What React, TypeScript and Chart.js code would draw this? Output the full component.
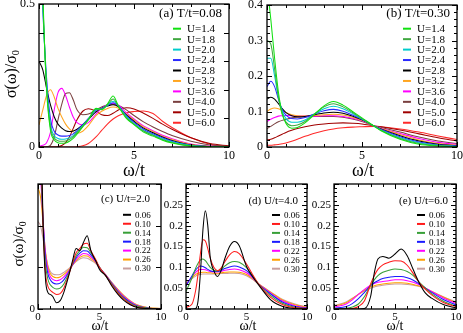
import React, { useEffect, useRef } from 'react';
import { Chart, registerables } from 'chart.js';

Chart.register(...registerables);

const FONT = '"Liberation Serif", "DejaVu Serif", "Times New Roman", serif';

// ---------- legends / colours ----------
const U_LABELS = ['U=1.4', 'U=1.8', 'U=2.0', 'U=2.4', 'U=2.8', 'U=3.2', 'U=3.6', 'U=4.0', 'U=5.0', 'U=6.0'];
const U_COLORS = ['#10e010', '#40a840', '#00cccc', '#2a2aff', '#000000', '#ffa520', '#ff00ff', '#7a4040', '#a00000', '#ff2a2a'];
const T_LABELS = ['0.06', '0.10', '0.14', '0.18', '0.22', '0.26', '0.30'];
const T_COLORS = ['#000000', '#ff1a1a', '#38a038', '#1a1aff', '#ff00ff', '#ffa000', '#c8a0a0'];

// ---------- panel (a): T/t = 0.08 ----------
const W_A = [0, 0.2, 0.4, 0.6, 0.8, 1.0, 1.2, 1.4, 1.6, 1.8, 2.0, 2.3, 2.6, 3.0, 3.3, 3.6, 3.9, 4.2, 4.6, 5.0, 5.5, 6.0, 6.5, 7, 8, 9, 10];
const A_U14 = [1.2, 0.55, 0.2, 0.06, 0.025, 0.015, 0.013, 0.014, 0.02, 0.03, 0.045, 0.07, 0.095, 0.135, 0.13, 0.15, 0.178, 0.14, 0.1, 0.078, 0.052, 0.038, 0.024, 0.014, 0.003, 0.001, 0];
const A_U18 = [1.0, 0.52, 0.21, 0.07, 0.032, 0.022, 0.02, 0.021, 0.026, 0.036, 0.05, 0.073, 0.097, 0.133, 0.132, 0.148, 0.168, 0.14, 0.103, 0.08, 0.056, 0.041, 0.026, 0.016, 0.004, 0.001, 0];
const A_U20 = [0.9, 0.5, 0.22, 0.08, 0.04, 0.03, 0.027, 0.028, 0.032, 0.04, 0.053, 0.075, 0.098, 0.13, 0.133, 0.146, 0.16, 0.142, 0.106, 0.082, 0.058, 0.043, 0.029, 0.018, 0.005, 0.001, 0];
const A_U24 = [0.8, 0.48, 0.24, 0.1, 0.055, 0.042, 0.038, 0.038, 0.04, 0.046, 0.057, 0.077, 0.1, 0.128, 0.135, 0.145, 0.155, 0.143, 0.11, 0.086, 0.062, 0.046, 0.032, 0.02, 0.006, 0.001, 0];
const A_U28 = [0.3, 0.27, 0.205, 0.148, 0.106, 0.08, 0.066, 0.057, 0.054, 0.056, 0.062, 0.078, 0.097, 0.123, 0.135, 0.143, 0.148, 0.14, 0.112, 0.09, 0.066, 0.05, 0.035, 0.023, 0.007, 0.002, 0];
const A_U32 = [0.077, 0.13, 0.18, 0.2, 0.175, 0.135, 0.105, 0.08, 0.063, 0.053, 0.048, 0.055, 0.075, 0.11, 0.125, 0.135, 0.14, 0.135, 0.115, 0.095, 0.07, 0.054, 0.038, 0.026, 0.009, 0.002, 0];
const A_U36 = [0.003, 0.006, 0.015, 0.05, 0.13, 0.19, 0.205, 0.18, 0.14, 0.105, 0.085, 0.077, 0.085, 0.115, 0.135, 0.148, 0.153, 0.145, 0.12, 0.098, 0.074, 0.057, 0.041, 0.029, 0.01, 0.003, 0];
const A_U40 = [0, 0, 0.001, 0.006, 0.035, 0.095, 0.15, 0.187, 0.19, 0.165, 0.13, 0.113, 0.115, 0.13, 0.14, 0.148, 0.15, 0.145, 0.13, 0.11, 0.088, 0.07, 0.054, 0.04, 0.02, 0.007, 0.002];
const A_U50 = [0, 0, 0, 0, 0, 0.001, 0.005, 0.015, 0.035, 0.065, 0.095, 0.125, 0.134, 0.125, 0.113, 0.11, 0.118, 0.13, 0.137, 0.133, 0.118, 0.1, 0.08, 0.062, 0.032, 0.012, 0.004];
const A_U60 = [0, 0, 0, 0, 0, 0, 0, 0, 0, 0, 0.001, 0.004, 0.012, 0.035, 0.058, 0.08, 0.098, 0.11, 0.12, 0.124, 0.126, 0.117, 0.09, 0.068, 0.032, 0.01, 0.002];

// ---------- panel (b): T/t = 0.30 ----------
const W_B = [0, 0.2, 0.4, 0.6, 0.8, 1.0, 1.3, 1.6, 2.0, 2.5, 3.0, 3.5, 4.0, 4.5, 5.0, 5.6, 6.0, 7, 8, 9, 10];
const B_U14 = [0.46, 0.36, 0.25, 0.155, 0.095, 0.066, 0.053, 0.055, 0.068, 0.092, 0.116, 0.128, 0.118, 0.1, 0.082, 0.06, 0.046, 0.022, 0.008, 0.003, 0.001];
const B_U18 = [0.3, 0.29, 0.22, 0.14, 0.092, 0.07, 0.06, 0.062, 0.072, 0.093, 0.113, 0.122, 0.113, 0.097, 0.08, 0.06, 0.047, 0.024, 0.01, 0.004, 0.001];
const B_U20 = [0.25, 0.25, 0.2, 0.14, 0.1, 0.08, 0.07, 0.07, 0.076, 0.093, 0.108, 0.115, 0.108, 0.094, 0.079, 0.06, 0.048, 0.026, 0.012, 0.005, 0.002];
const B_U24 = [0.17, 0.185, 0.17, 0.135, 0.105, 0.09, 0.08, 0.079, 0.083, 0.093, 0.102, 0.106, 0.101, 0.09, 0.078, 0.06, 0.05, 0.029, 0.014, 0.006, 0.003];
const B_U28 = [0.135, 0.14, 0.135, 0.122, 0.108, 0.097, 0.088, 0.085, 0.086, 0.091, 0.096, 0.098, 0.095, 0.087, 0.077, 0.06, 0.051, 0.032, 0.017, 0.008, 0.004];
const B_U32 = [0.1, 0.107, 0.11, 0.108, 0.103, 0.097, 0.091, 0.088, 0.087, 0.089, 0.091, 0.092, 0.09, 0.084, 0.075, 0.06, 0.052, 0.035, 0.02, 0.01, 0.005];
const B_U36 = [0.072, 0.078, 0.083, 0.087, 0.088, 0.089, 0.088, 0.087, 0.087, 0.087, 0.088, 0.088, 0.086, 0.081, 0.074, 0.06, 0.053, 0.038, 0.024, 0.013, 0.007];
const B_U40 = [0.052, 0.058, 0.065, 0.071, 0.075, 0.078, 0.082, 0.084, 0.085, 0.086, 0.086, 0.086, 0.084, 0.079, 0.072, 0.06, 0.055, 0.042, 0.028, 0.017, 0.01];
const B_U50 = [0.02, 0.022, 0.026, 0.031, 0.036, 0.041, 0.047, 0.052, 0.057, 0.062, 0.065, 0.067, 0.068, 0.067, 0.065, 0.06, 0.057, 0.048, 0.037, 0.026, 0.017];
const B_U60 = [0.005, 0.005, 0.006, 0.007, 0.009, 0.011, 0.016, 0.022, 0.03, 0.039, 0.046, 0.051, 0.054, 0.056, 0.057, 0.058, 0.057, 0.051, 0.042, 0.031, 0.021];

// ---------- panel (c): U/t = 2.0 ----------
const W_C = [0, 0.2, 0.4, 0.6, 0.8, 1.0, 1.2, 1.5, 1.8, 2.1, 2.5, 2.8, 3.1, 3.4, 3.7, 4.0, 4.3, 4.7, 5.0, 5.5, 6.0, 6.5, 7, 7.5, 8, 9, 10];
const C_T06 = [1.0, 0.5, 0.22, 0.075, 0.04, 0.035, 0.03, 0.015, 0.02, 0.04, 0.08, 0.115, 0.145, 0.14, 0.16, 0.176, 0.14, 0.115, 0.095, 0.08, 0.055, 0.035, 0.02, 0.01, 0.004, 0.001, 0];
const C_T10 = [0.8, 0.45, 0.21, 0.09, 0.055, 0.045, 0.04, 0.035, 0.037, 0.05, 0.082, 0.11, 0.135, 0.145, 0.156, 0.158, 0.14, 0.118, 0.1, 0.08, 0.058, 0.038, 0.023, 0.012, 0.005, 0.001, 0];
const C_T14 = [0.6, 0.4, 0.21, 0.11, 0.072, 0.058, 0.052, 0.048, 0.05, 0.06, 0.085, 0.108, 0.128, 0.14, 0.148, 0.147, 0.135, 0.117, 0.1, 0.08, 0.06, 0.04, 0.025, 0.014, 0.007, 0.002, 0];
const C_T18 = [0.45, 0.35, 0.22, 0.125, 0.085, 0.07, 0.063, 0.06, 0.062, 0.07, 0.088, 0.106, 0.123, 0.134, 0.14, 0.139, 0.13, 0.115, 0.1, 0.081, 0.061, 0.042, 0.027, 0.016, 0.008, 0.002, 0];
const C_T22 = [0.38, 0.32, 0.22, 0.135, 0.095, 0.078, 0.071, 0.068, 0.07, 0.077, 0.091, 0.105, 0.119, 0.128, 0.133, 0.132, 0.125, 0.113, 0.099, 0.082, 0.062, 0.044, 0.029, 0.018, 0.009, 0.002, 0.001];
const C_T26 = [0.29, 0.27, 0.21, 0.14, 0.102, 0.085, 0.078, 0.075, 0.077, 0.083, 0.094, 0.105, 0.116, 0.124, 0.128, 0.127, 0.121, 0.111, 0.099, 0.082, 0.063, 0.046, 0.031, 0.019, 0.01, 0.003, 0.001];
const C_T30 = [0.21, 0.2, 0.17, 0.135, 0.105, 0.09, 0.084, 0.082, 0.083, 0.088, 0.097, 0.106, 0.114, 0.12, 0.123, 0.122, 0.117, 0.109, 0.098, 0.082, 0.064, 0.047, 0.032, 0.02, 0.011, 0.003, 0.001];

// ---------- panel (d): U/t = 4.0 ----------
const W_D = [0, 0.5, 0.8, 1.0, 1.2, 1.4, 1.6, 1.8, 2.0, 2.3, 2.6, 2.9, 3.2, 3.6, 4.0, 4.4, 5.0, 5.5, 6.0, 7, 8, 9, 10];
const D_T06 = [0, 0, 0.001, 0.02, 0.09, 0.19, 0.236, 0.2, 0.125, 0.092, 0.078, 0.092, 0.12, 0.15, 0.162, 0.152, 0.102, 0.078, 0.058, 0.022, 0.006, 0.001, 0];
const D_T10 = [0.004, 0.012, 0.045, 0.085, 0.135, 0.166, 0.163, 0.145, 0.122, 0.1, 0.092, 0.098, 0.113, 0.13, 0.138, 0.133, 0.108, 0.083, 0.06, 0.028, 0.01, 0.003, 0.001];
const D_T14 = [0.042, 0.075, 0.098, 0.11, 0.118, 0.12, 0.116, 0.108, 0.1, 0.093, 0.091, 0.095, 0.103, 0.111, 0.114, 0.112, 0.099, 0.08, 0.06, 0.032, 0.013, 0.004, 0.001];
const D_T18 = [0.055, 0.08, 0.094, 0.1, 0.103, 0.102, 0.099, 0.095, 0.092, 0.09, 0.09, 0.093, 0.097, 0.101, 0.103, 0.101, 0.092, 0.077, 0.06, 0.036, 0.016, 0.006, 0.002];
const D_T22 = [0.058, 0.078, 0.088, 0.093, 0.095, 0.095, 0.094, 0.092, 0.09, 0.089, 0.089, 0.09, 0.093, 0.095, 0.096, 0.094, 0.087, 0.075, 0.06, 0.038, 0.019, 0.008, 0.003];
const D_T26 = [0.06, 0.075, 0.083, 0.086, 0.087, 0.088, 0.088, 0.087, 0.087, 0.086, 0.086, 0.087, 0.088, 0.089, 0.089, 0.088, 0.083, 0.073, 0.06, 0.04, 0.021, 0.01, 0.004];
const D_T30 = [0.062, 0.073, 0.079, 0.082, 0.083, 0.084, 0.084, 0.084, 0.084, 0.084, 0.084, 0.085, 0.085, 0.086, 0.086, 0.085, 0.08, 0.071, 0.06, 0.041, 0.023, 0.012, 0.005];

// ---------- panel (e): U/t = 6.0 ----------
const W_E = [0, 1.0, 1.5, 2.0, 2.5, 3.0, 3.3, 3.6, 4.0, 4.5, 5.0, 5.5, 6.0, 6.5, 7, 7.5, 8, 9, 10];
const E_T06 = [0, 0, 0, 0, 0.001, 0.03, 0.086, 0.12, 0.126, 0.122, 0.132, 0.144, 0.128, 0.094, 0.062, 0.038, 0.026, 0.01, 0.003];
const E_T10 = [0, 0, 0.001, 0.006, 0.02, 0.06, 0.08, 0.095, 0.106, 0.112, 0.116, 0.115, 0.105, 0.085, 0.063, 0.047, 0.034, 0.015, 0.006];
const E_T14 = [0, 0.002, 0.005, 0.012, 0.03, 0.057, 0.07, 0.08, 0.088, 0.093, 0.096, 0.095, 0.09, 0.08, 0.064, 0.05, 0.037, 0.018, 0.007];
const E_T18 = [0.002, 0.006, 0.013, 0.025, 0.04, 0.056, 0.063, 0.068, 0.073, 0.076, 0.078, 0.078, 0.075, 0.069, 0.06, 0.05, 0.04, 0.022, 0.01];
const E_T22 = [0.005, 0.012, 0.022, 0.035, 0.047, 0.057, 0.061, 0.064, 0.066, 0.068, 0.07, 0.07, 0.068, 0.064, 0.058, 0.05, 0.042, 0.026, 0.013];
const E_T26 = [0.007, 0.015, 0.025, 0.035, 0.045, 0.053, 0.056, 0.058, 0.06, 0.062, 0.063, 0.063, 0.062, 0.059, 0.055, 0.049, 0.042, 0.028, 0.015];
const E_T30 = [0.008, 0.017, 0.026, 0.035, 0.043, 0.05, 0.053, 0.055, 0.057, 0.059, 0.06, 0.06, 0.059, 0.057, 0.054, 0.048, 0.042, 0.029, 0.017];

const W = 463;
const H = 333;

function isMult(v: number, step: number) {
  const r = v / step;
  return Math.abs(r - Math.round(r)) < 1e-6;
}
function fmt(v: number) {
  return String(Math.round(v * 1000) / 1000);
}

// inward ticks on all four sides + frame
const frameTicks: any = {
  id: 'frameTicks',
  afterDatasetsDraw(chart: any, _a: any, o: any) {
    const { ctx, chartArea: a, scales } = chart;
    const xs = scales.x;
    const ys = scales.y;
    ctx.save();
    ctx.strokeStyle = '#000';
    ctx.lineWidth = 1;
    ctx.beginPath();
    xs.ticks.forEach((t: any) => {
      const p = Math.round(xs.getPixelForValue(t.value)) + 0.5;
      const len = isMult(t.value, o.xMajor) ? o.majorLen : o.minorLen;
      ctx.moveTo(p, a.bottom);
      ctx.lineTo(p, a.bottom - len);
      ctx.moveTo(p, a.top);
      ctx.lineTo(p, a.top + len);
    });
    ys.ticks.forEach((t: any) => {
      const p = Math.round(ys.getPixelForValue(t.value)) + 0.5;
      const len = isMult(t.value, o.yMajor) ? o.majorLen : o.minorLen;
      ctx.moveTo(a.left, p);
      ctx.lineTo(a.left + len, p);
      ctx.moveTo(a.right, p);
      ctx.lineTo(a.right - len, p);
    });
    ctx.stroke();
    ctx.lineWidth = 1.3;
    ctx.strokeRect(a.left, a.top, a.right - a.left, a.bottom - a.top);
    ctx.restore();
  },
};

// legend drawn inside the plot area from the chart's own datasets
const inLegend: any = {
  id: 'inLegend',
  afterDraw(chart: any, _a: any, o: any) {
    const ctx = chart.ctx;
    ctx.save();
    ctx.fillStyle = '#000';
    ctx.textBaseline = 'middle';
    ctx.textAlign = 'right';
    ctx.font = `${o.titleSize}px ${FONT}`;
    ctx.fillText(o.title, o.titleRight, o.titleY);
    ctx.textAlign = 'left';
    ctx.font = `${o.size}px ${FONT}`;
    chart.data.datasets.forEach((ds: any, i: number) => {
      const y = o.y0 + i * o.dy;
      ctx.strokeStyle = ds.borderColor;
      ctx.lineWidth = o.lw;
      ctx.beginPath();
      ctx.moveTo(o.x1, y);
      ctx.lineTo(o.x2, y);
      ctx.stroke();
      ctx.fillStyle = '#000';
      ctx.fillText(ds.label, o.tx, y + 0.5);
    });
    ctx.restore();
  },
};

type Panel = {
  grid: number[];
  series: number[][];
  labels: string[];
  colors: string[];
  L: number; T: number; R: number; B: number;
  yMax: number; yStep: number; yMajor: number; yLabels: 'ends' | 'major' | 'zero';
  tickSize: number; yPad: number; xPad: number;
  legend: any;
};

const PANELS: Panel[] = [
  {
    grid: W_A,
    series: [A_U14, A_U18, A_U20, A_U24, A_U28, A_U32, A_U36, A_U40, A_U50, A_U60],
    labels: U_LABELS, colors: U_COLORS,
    L: 39, T: 4, R: 229, B: 147,
    yMax: 0.5, yStep: 0.1, yMajor: 0.1, yLabels: 'ends',
    tickSize: 12, yPad: 4, xPad: 2,
    legend: { title: '(a) T/t=0.08', titleSize: 13, titleRight: 222, titleY: 14, size: 11, x1: 173, x2: 181, tx: 187, y0: 28.7, dy: 10.45, lw: 2 },
  },
  {
    grid: W_B,
    series: [B_U14, B_U18, B_U20, B_U24, B_U28, B_U32, B_U36, B_U40, B_U50, B_U60],
    labels: U_LABELS, colors: U_COLORS,
    L: 267, T: 5, R: 457, B: 147,
    yMax: 0.4, yStep: 0.02, yMajor: 0.1, yLabels: 'major',
    tickSize: 12, yPad: 4, xPad: 2,
    legend: { title: '(b) T/t=0.30', titleSize: 13, titleRight: 450, titleY: 14, size: 11, x1: 403, x2: 411, tx: 417, y0: 28.7, dy: 10.45, lw: 2 },
  },
  {
    grid: W_C,
    series: [C_T06, C_T10, C_T14, C_T18, C_T22, C_T26, C_T30],
    labels: T_LABELS, colors: T_COLORS,
    L: 38, T: 184, R: 161, B: 309,
    yMax: 0.3, yStep: 0.1, yMajor: 0.1, yLabels: 'zero',
    tickSize: 11, yPad: 3, xPad: 2,
    legend: { title: '(c) U/t=2.0', titleSize: 11, titleRight: 150, titleY: 199.5, size: 9, x1: 123, x2: 131, tx: 135, y0: 214.8, dy: 8.95, lw: 2 },
  },
  {
    grid: W_D,
    series: [D_T06, D_T10, D_T14, D_T18, D_T22, D_T26, D_T30],
    labels: T_LABELS, colors: T_COLORS,
    L: 186, T: 184, R: 307, B: 309,
    yMax: 0.3, yStep: 0.01, yMajor: 0.05, yLabels: 'major',
    tickSize: 11, yPad: 3, xPad: 2,
    legend: { title: '(d) U/t=4.0', titleSize: 11, titleRight: 298, titleY: 201, size: 9, x1: 272, x2: 280, tx: 284, y0: 215, dy: 8.95, lw: 2 },
  },
  {
    grid: W_E,
    series: [E_T06, E_T10, E_T14, E_T18, E_T22, E_T26, E_T30],
    labels: T_LABELS, colors: T_COLORS,
    L: 334, T: 184, R: 456, B: 309,
    yMax: 0.3, yStep: 0.01, yMajor: 0.05, yLabels: 'major',
    tickSize: 11, yPad: 3, xPad: 2,
    legend: { title: '(e) U/t=6.0', titleSize: 11, titleRight: 448, titleY: 201, size: 9, x1: 417, x2: 425, tx: 429, y0: 215, dy: 8.95, lw: 2 },
  },
];

const Y_AXIS_W = 30;
const X_AXIS_H = 18;

function makeConfig(p: Panel): any {
  const datasets = p.series.map((s, i) => ({
    label: p.labels[i],
    data: p.grid.map((x, j) => ({ x, y: s[j] })),
    borderColor: p.colors[i],
    backgroundColor: p.colors[i],
    borderWidth: 1.05,
    pointRadius: 0,
    fill: false,
    cubicInterpolationMode: 'monotone',
  }));
  const yLabel = (v: number) => {
    if (p.yLabels === 'zero') return Math.abs(v) < 1e-9 ? '0' : '';
    if (p.yLabels === 'ends') return Math.abs(v) < 1e-9 || Math.abs(v - p.yMax) < 1e-9 ? fmt(v) : '';
    if (isMult(v, p.yMajor) && v < p.yMax - 1e-9) return fmt(v);
    if (isMult(v, p.yMajor) && p.yMax <= 0.4 && p.yMajor === 0.1) return fmt(v);
    return '';
  };
  const zeroPad = (s: any) => {
    s.paddingLeft = 0;
    s.paddingRight = 0;
    s.paddingTop = 0;
    s.paddingBottom = 0;
  };
  return {
    type: 'line',
    data: { datasets },
    options: {
      animation: false,
      responsive: false,
      events: [],
      layout: {
        padding: { left: p.L - Y_AXIS_W, top: p.T, right: W - p.R, bottom: H - p.B - X_AXIS_H },
      },
      scales: {
        x: {
          type: 'linear',
          min: 0,
          max: 10,
          grid: { display: false, drawTicks: false },
          border: { display: false },
          ticks: {
            stepSize: 1,
            autoSkip: false,
            maxRotation: 0,
            padding: p.xPad,
            color: '#000',
            font: { family: FONT, size: p.tickSize },
            callback: (v: number) => (isMult(v, 5) ? fmt(v) : ''),
          },
          afterFit: (s: any) => {
            s.height = X_AXIS_H;
            zeroPad(s);
          },
        },
        y: {
          type: 'linear',
          min: 0,
          max: p.yMax,
          grid: { display: false, drawTicks: false },
          border: { display: false },
          ticks: {
            stepSize: p.yStep,
            autoSkip: false,
            padding: p.yPad,
            color: '#000',
            font: { family: FONT, size: p.tickSize },
            callback: (v: number) => yLabel(v),
          },
          afterFit: (s: any) => {
            s.width = Y_AXIS_W;
            zeroPad(s);
          },
        },
      },
      plugins: {
        legend: { display: false },
        tooltip: { enabled: false },
        title: { display: false },
        frameTicks: { xMajor: 5, yMajor: p.yMajor, majorLen: 5, minorLen: 3 },
        inLegend: p.legend,
      },
    },
    plugins: [frameTicks, inLegend],
  };
}

const titleStyle = (cx: number, cy: number, size: number, rotate: boolean): React.CSSProperties => ({
  position: 'absolute',
  left: cx,
  top: cy,
  transform: `translate(-50%, -50%)${rotate ? ' rotate(-90deg)' : ''}`,
  fontFamily: FONT,
  fontSize: size,
  whiteSpace: 'nowrap',
  lineHeight: 1,
  color: '#000',
});

function SigmaTitle({ cx, cy, size }: { cx: number; cy: number; size: number }) {
  return (
    <div style={titleStyle(cx, cy, size, true)}>
      σ(ω)/σ<sub style={{ fontSize: '0.65em', verticalAlign: '-0.3em' }}>0</sub>
    </div>
  );
}

export default function App() {
  const refs = useRef<(HTMLCanvasElement | null)[]>([]);

  useEffect(() => {
    const charts = PANELS.map((p, i) => new Chart(refs.current[i] as HTMLCanvasElement, makeConfig(p)));
    return () => charts.forEach((c) => c.destroy());
  }, []);

  return (
    <div style={{ position: 'fixed', left: 0, top: 0, width: W, height: H, background: '#fff', overflow: 'hidden' }}>
      {PANELS.map((_, i) => (
        <canvas
          key={i}
          ref={(el) => {
            refs.current[i] = el;
          }}
          width={W}
          height={H}
          style={{ position: 'absolute', left: 0, top: 0, width: W, height: H }}
        />
      ))}
      <SigmaTitle cx={12} cy={74} size={16} />
      <SigmaTitle cx={19} cy={244} size={15} />
      <div style={titleStyle(134, 170, 18, false)}>ω/t</div>
      <div style={titleStyle(363, 170, 18, false)}>ω/t</div>
      <div style={titleStyle(100, 326, 14, false)}>ω/t</div>
      <div style={titleStyle(248, 326, 14, false)}>ω/t</div>
      <div style={titleStyle(395, 326, 14, false)}>ω/t</div>
    </div>
  );
}
